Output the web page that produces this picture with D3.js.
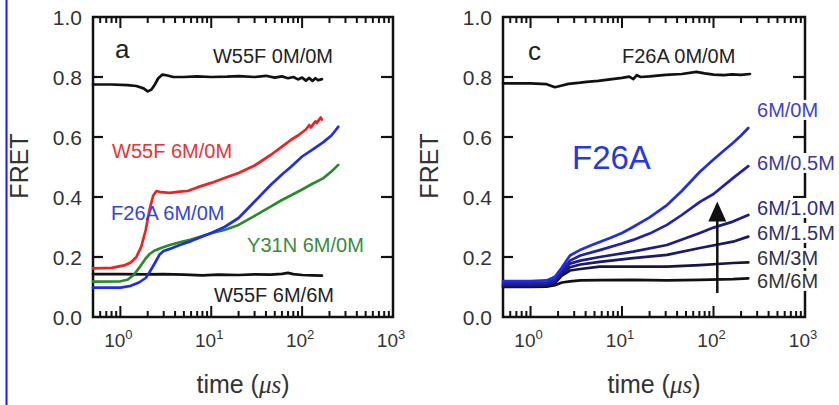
<!DOCTYPE html>
<html>
<head>
<meta charset="utf-8">
<script src="https://cdn.jsdelivr.net/npm/d3@7"></script>
<style>
  body { margin: 0; background: #ffffff; }
  svg { display: block; font-family: "Liberation Sans", Arial, sans-serif; }
</style>
</head>
<body>
<svg id="chart" width="839" height="405"></svg>
<script>
"use strict";

// tick values
var yTicks = [0.0, 0.2, 0.4, 0.6, 0.8, 1.0];
var xTickExps = [0, 1, 2, 3];

// panel a : time (us) and FRET for each trace
var w55f00T = [0.5, 0.8, 1.2, 1.5, 1.8, 2.0, 2.2, 2.4, 2.6, 2.9, 3.3, 3.8, 5, 7, 10, 15, 20, 30, 40, 50, 60, 70, 80, 90, 100, 110, 120, 130, 140, 150, 165];
var w55f00Y = [0.775, 0.775, 0.773, 0.770, 0.762, 0.752, 0.758, 0.775, 0.795, 0.808, 0.805, 0.800, 0.800, 0.802, 0.800, 0.801, 0.803, 0.800, 0.804, 0.798, 0.802, 0.796, 0.800, 0.792, 0.798, 0.788, 0.797, 0.787, 0.796, 0.789, 0.793];

var w55f60T = [0.5, 0.8, 1.1, 1.3, 1.5, 1.7, 1.9, 2.1, 2.3, 2.5, 2.8, 3.5, 4.5, 5.5, 7, 10, 14, 20, 30, 45, 60, 75, 90, 110, 120, 125, 140, 145, 160, 165];
var w55f60Y = [0.162, 0.164, 0.172, 0.182, 0.200, 0.235, 0.290, 0.360, 0.405, 0.420, 0.416, 0.414, 0.418, 0.420, 0.432, 0.447, 0.463, 0.480, 0.505, 0.540, 0.568, 0.590, 0.605, 0.625, 0.640, 0.632, 0.652, 0.647, 0.665, 0.658];

var f26a60T = [0.5, 1.0, 1.3, 1.6, 1.9, 2.1, 2.4, 2.7, 3.0, 3.5, 4.5, 6, 8, 10, 14, 20, 30, 45, 60, 75, 100, 130, 170, 210, 250];
var f26a60Y = [0.098, 0.098, 0.104, 0.115, 0.130, 0.150, 0.180, 0.208, 0.220, 0.227, 0.240, 0.253, 0.268, 0.280, 0.300, 0.330, 0.385, 0.440, 0.475, 0.500, 0.535, 0.558, 0.582, 0.605, 0.634];

var y31n60T = [0.5, 1.0, 1.2, 1.4, 1.65, 1.9, 2.1, 2.4, 2.8, 3.5, 4.5, 6, 8, 10, 14, 20, 30, 45, 60, 75, 100, 130, 170, 210, 250];
var y31n60Y = [0.118, 0.119, 0.124, 0.140, 0.168, 0.195, 0.210, 0.222, 0.230, 0.240, 0.249, 0.258, 0.270, 0.279, 0.290, 0.307, 0.337, 0.368, 0.390, 0.405, 0.425, 0.444, 0.462, 0.485, 0.507];

var w55f66T = [0.5, 1, 2, 3, 5, 8, 12, 20, 30, 45, 60, 70, 80, 100, 130, 165];
var w55f66Y = [0.143, 0.143, 0.142, 0.143, 0.141, 0.139, 0.141, 0.140, 0.142, 0.141, 0.144, 0.147, 0.143, 0.140, 0.139, 0.138];

// panel c : F26A with different denaturant jumps
var f26a00T = [0.5, 1.0, 1.5, 1.85, 2.1, 2.6, 3.5, 4.1, 5.5, 7.4, 10, 12, 13.3, 14.5, 16, 20, 30, 45, 65, 80, 100, 130, 160, 200, 250];
var f26a00Y = [0.779, 0.779, 0.776, 0.766, 0.770, 0.777, 0.781, 0.784, 0.787, 0.792, 0.797, 0.801, 0.793, 0.806, 0.800, 0.802, 0.807, 0.810, 0.817, 0.812, 0.808, 0.806, 0.809, 0.807, 0.810];

var c0T = [0.5, 1.0, 1.5, 1.85, 2.2, 2.7, 3.46, 5, 7.4, 10, 13.2, 20, 31, 45, 71, 100, 130, 163, 200, 240];
var c0Y = [0.120, 0.120, 0.122, 0.134, 0.165, 0.205, 0.223, 0.243, 0.263, 0.280, 0.300, 0.332, 0.373, 0.420, 0.484, 0.525, 0.555, 0.580, 0.605, 0.630];

var c05T = [0.5, 1.0, 1.5, 1.85, 2.2, 2.7, 3.5, 5.7, 10, 13.2, 20, 31, 45, 71, 100, 163, 240];
var c05Y = [0.113, 0.113, 0.115, 0.125, 0.155, 0.188, 0.205, 0.223, 0.245, 0.257, 0.278, 0.307, 0.340, 0.384, 0.410, 0.463, 0.503];

var c10T = [0.5, 1.0, 1.5, 1.85, 2.2, 2.7, 3.5, 5.7, 13.2, 31, 71, 100, 163, 240];
var c10Y = [0.108, 0.108, 0.110, 0.120, 0.150, 0.178, 0.188, 0.200, 0.218, 0.240, 0.280, 0.298, 0.318, 0.340];

var c15T = [0.5, 1.0, 1.5, 1.85, 2.2, 2.7, 3.5, 5.7, 13.2, 31, 71, 163, 240];
var c15Y = [0.105, 0.105, 0.107, 0.117, 0.145, 0.166, 0.175, 0.184, 0.196, 0.207, 0.230, 0.251, 0.268];

var c3T = [0.5, 1.0, 1.5, 1.85, 2.2, 2.7, 3.5, 5.7, 13.2, 31, 71, 163, 240];
var c3Y = [0.103, 0.103, 0.105, 0.113, 0.138, 0.155, 0.160, 0.168, 0.168, 0.168, 0.173, 0.180, 0.182];

var c6T = [0.5, 1.0, 1.5, 1.85, 2.2, 2.7, 3.5, 5.7, 13.2, 31, 71, 163, 240];
var c6Y = [0.100, 0.100, 0.101, 0.106, 0.115, 0.119, 0.122, 0.123, 0.124, 0.122, 0.124, 0.126, 0.129];

function zipSeries(t, y) {
  return t.map(function(d, i) { return [d, y[i]]; });
}

var svg = d3.select("#chart");

svg.append("rect")
.attr("width", 839)
.attr("height", 405)
.attr("fill", "#ffffff");

// thin blue bar on the left edge of the scan
svg.append("line")
.attr("x1", 6.5).attr("x2", 6.5)
.attr("y1", 0).attr("y2", 405)
.attr("stroke", "#1a1aff")
.attr("stroke-width", 2);

/**
 * Draws one framed log-time panel, returns its group and scales.
 */
function drawPanel(x0, x1) {
  var x = d3.scaleLog().domain([0.5, 1000]).range([x0, x1]);
  var y = d3.scaleLinear().domain([0, 1]).range([317, 17]);
  var g = svg.append("g");

  // frame
  g.append("rect")
  .attr("x", x0).attr("y", y(1))
  .attr("width", x1 - x0).attr("height", y(0) - y(1))
  .attr("fill", "none")
  .attr("stroke", "#111")
  .attr("stroke-width", 2.5);

  // minor + major ticks on top and bottom, pointing in
  var logTicks = x.ticks();
  var tickRows = [];
  logTicks.forEach(function(d) {
    var major = Math.abs(Math.log10(d) - Math.round(Math.log10(d))) < 1e-9;
    tickRows.push({ v: d, len: major ? 11 : 6, base: y(0), dir: -1 });
    tickRows.push({ v: d, len: major ? 11 : 6, base: y(1), dir: 1 });
  });
  g.selectAll("line.xTick")
  .data(tickRows)
  .enter()
  .append("line")
  .attr("class", "xTick")
  .attr("x1", function(d) { return x(d.v); })
  .attr("x2", function(d) { return x(d.v); })
  .attr("y1", function(d) { return d.base; })
  .attr("y2", function(d) { return d.base + d.dir * d.len; })
  .attr("stroke", "#111")
  .attr("stroke-width", 2);

  // y ticks both sides
  var yRows = [];
  yTicks.slice(1, 5).forEach(function(d) {
    yRows.push({ v: d, xa: x0, xb: x0 + 10 });
    yRows.push({ v: d, xa: x1 - 12, xb: x1 });
  });
  g.selectAll("line.yTick")
  .data(yRows)
  .enter()
  .append("line")
  .attr("class", "yTick")
  .attr("x1", function(d) { return d.xa; })
  .attr("x2", function(d) { return d.xb; })
  .attr("y1", function(d) { return y(d.v); })
  .attr("y2", function(d) { return y(d.v); })
  .attr("stroke", "#111")
  .attr("stroke-width", 2.2);

  // y tick labels
  g.selectAll("text.yLab")
  .data(yTicks)
  .enter()
  .append("text")
  .attr("class", "yLab")
  .attr("x", x0 - 11)
  .attr("y", function(d) { return y(d); })
  .attr("dy", "0.36em")
  .attr("text-anchor", "end")
  .attr("font-size", 21)
  .attr("fill", "#333")
  .text(d3.format(".1f"));

  // x tick labels 10^n
  var xl = g.selectAll("text.xLab")
  .data(xTickExps)
  .enter()
  .append("text")
  .attr("class", "xLab")
  .attr("x", function(d) { return x(Math.pow(10, d)) - 2; })
  .attr("y", 347)
  .attr("text-anchor", "middle")
  .attr("font-size", 19)
  .attr("fill", "#333");
  xl.append("tspan").text("10");
  xl.append("tspan")
  .attr("dy", -8)
  .attr("font-size", 13)
  .text(function(d) { return d; });

  // axis titles
  g.append("text")
  .attr("transform", "translate(" + (x0 - 65) + ",166) rotate(-90)")
  .attr("text-anchor", "middle")
  .attr("font-size", 25)
  .attr("fill", "#333")
  .text("FRET");

  var xt = g.append("text")
  .attr("x", (x0 + x1) / 2)
  .attr("y", 393)
  .attr("text-anchor", "middle")
  .attr("font-size", 25)
  .attr("fill", "#333");
  xt.append("tspan").text("time (");
  xt.append("tspan")
  .attr("font-family", "'Liberation Serif', serif")
  .attr("font-style", "italic")
  .text("\u03bcs");
  xt.append("tspan").text(")");

  return { g: g, x: x, y: y };
}

function drawLine(p, t, v, color, width) {
  var line = d3.line()
  .x(function(d) { return p.x(d[0]); })
  .y(function(d) { return p.y(d[1]); });
  p.g.append("path")
  .datum(zipSeries(t, v))
  .attr("d", line)
  .attr("fill", "none")
  .attr("stroke", color)
  .attr("stroke-width", width || 2.7)
  .attr("stroke-linejoin", "round")
  .attr("stroke-linecap", "round");
}

function addLabel(p, t, v, txt, color, size, bg) {
  var el = p.g.append("text")
  .attr("x", p.x(t))
  .attr("y", p.y(v))
  .attr("font-size", size || 20)
  .attr("fill", color)
  .text(txt);
  if (bg) {
    var b = el.node().getBBox();
    p.g.insert("rect", function() { return el.node(); })
    .attr("x", b.x - 1).attr("y", b.y + 1)
    .attr("width", b.width + 2).attr("height", b.height - 2)
    .attr("fill", "#ffffff");
  }
}

// panel a
var pa = drawPanel(93, 393);
drawLine(pa, w55f66T, w55f66Y, "#111111");
drawLine(pa, y31n60T, y31n60Y, "#2a8a2a");
drawLine(pa, f26a60T, f26a60Y, "#1f2ee6");
drawLine(pa, w55f60T, w55f60Y, "#ee2222");
drawLine(pa, w55f00T, w55f00Y, "#111111");

addLabel(pa, 0.873, 0.863, "a", "#222", 26);
addLabel(pa, 10.45, 0.847, "W55F 0M/0M", "#222");
addLabel(pa, 0.81, 0.53, "W55F 6M/0M", "#e83434");
addLabel(pa, 0.79, 0.323, "F26A 6M/0M", "#3344dd");
addLabel(pa, 24.8, 0.217, "Y31N 6M/0M", "#3a8c3a");
addLabel(pa, 10.7, 0.05, "W55F 6M/6M", "#222");

// panel c
var pc = drawPanel(503, 805);
drawLine(pc, c6T, c6Y, "#111111");
drawLine(pc, c3T, c3Y, "#161640");
drawLine(pc, c15T, c15Y, "#1a1a66");
drawLine(pc, c10T, c10Y, "#1c1c88");
drawLine(pc, c05T, c05Y, "#2020b0");
drawLine(pc, c0T, c0Y, "#1f2ee0");
drawLine(pc, f26a00T, f26a00Y, "#111111");

addLabel(pc, 0.94, 0.857, "c", "#222", 26);
addLabel(pc, 10, 0.847, "F26A 0M/0M", "#222");
addLabel(pc, 2.84, 0.493, "F26A", "#2638e0", 33);
addLabel(pc, 299, 0.667, "6M/0M", "#4040dd", 20, true);
addLabel(pc, 299, 0.49, "6M/0.5M", "#3a3aa0", 20, true);
addLabel(pc, 299, 0.34, "6M/1.0M", "#2c2c88", 20, true);
addLabel(pc, 299, 0.257, "6M/1.5M", "#303068", 20, true);
addLabel(pc, 299, 0.173, "6M/3M", "#303050", 20, true);
addLabel(pc, 299, 0.097, "6M/6M", "#333333", 20, true);

// arrow showing increasing final denaturant
var ax = pc.x(110);
pc.g.append("line")
.attr("x1", ax).attr("x2", ax)
.attr("y1", pc.y(0.08)).attr("y2", pc.y(0.33))
.attr("stroke", "#111")
.attr("stroke-width", 2.5);
pc.g.append("path")
.attr("d", "M" + (ax - 9) + "," + pc.y(0.318) +
  "L" + ax + "," + pc.y(0.385) +
  "L" + (ax + 9) + "," + pc.y(0.318) + "Z")
.attr("fill", "#111");
</script>
</body>
</html>
